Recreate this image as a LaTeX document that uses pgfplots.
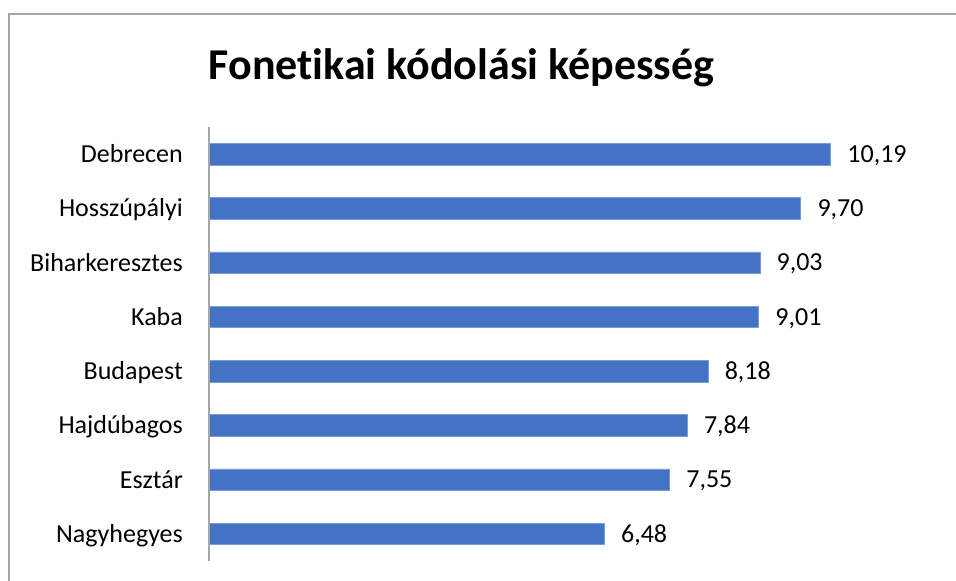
\documentclass[border=0pt]{standalone}
\usepackage{pgfplots}
\pgfplotsset{compat=1.18}
\usepackage{fontspec}
\setmainfont{Carlito}[Ligatures={NoCommon}]
\definecolor{barblue}{HTML}{4472C4}
\definecolor{axgray}{HTML}{A6A6A6}
\definecolor{framegray}{HTML}{A6A6A6}
\begin{document}
\begin{tikzpicture}[x=1pt,y=1pt]
\path[use as bounding box] (0,0) rectangle (956,581);
\draw[framegray, line width=1.2pt] (9,-5) -- (9,567) -- (962,567);
\node[anchor=base, inner sep=0pt, font=\fontsize{44}{53}\selectfont\bfseries] at (461.5,501) {Fonetikai kódolási képesség};
\begin{axis}[
  at={(209pt,20pt)}, anchor=south west,
  scale only axis, width=732pt, height=434pt,
  xbar, bar width=21.5pt,
  xmin=0, xmax=12, ymin=-0.5, ymax=7.5,
  axis line style={draw=none},
  xtick=\empty,
  ytick={0,1,2,3,4,5,6,7},
  yticklabels={Nagyhegyes,Esztár,Hajdúbagos,Budapest,Kaba,Biharkeresztes,Hosszúpályi,Debrecen},
  major tick length=0pt,
  ytick style={draw=none},
  yticklabel style={anchor=base east, inner sep=0pt, xshift=-26pt, yshift=-8.4pt, font=\fontsize{26}{31}\selectfont},
  clip=false,
  nodes near coords,
  /pgf/number format/.cd, fixed, fixed zerofill, precision=2, use comma, assume math mode=true,
  /pgfplots/.cd,
  every node near coord/.append style={anchor=base west, inner sep=0pt, xshift=16.5pt, yshift=-8.2pt, font=\fontsize{26}{31}\selectfont, text=black},
]
\addplot[fill=barblue, draw=barblue!70!white, line width=0.6pt] coordinates {
  (6.48,0) (7.55,1) (7.84,2) (8.18,3) (9.01,4) (9.03,5) (9.70,6) (10.19,7)
};
\draw[axgray, line width=1.2pt] (axis cs:0,-0.5) -- (axis cs:0,7.5);
\end{axis}
\end{tikzpicture}
\end{document}
